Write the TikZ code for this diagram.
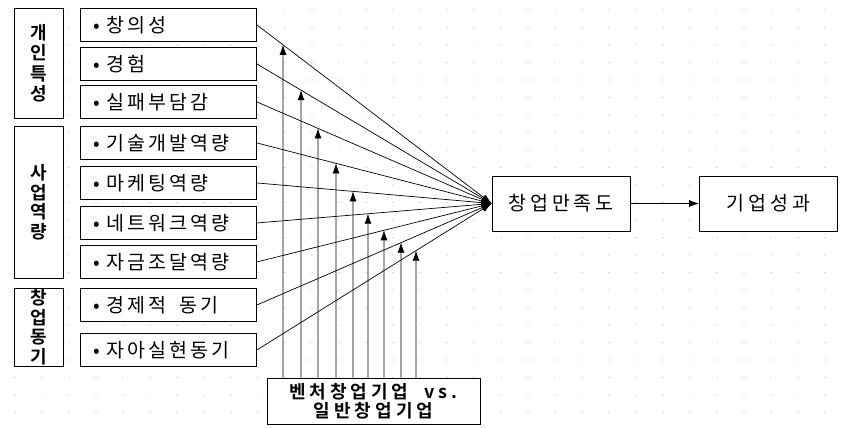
\documentclass[tikz,border=0pt]{standalone}
\usepackage{fontspec}
\setmainfont{Noto Sans CJK KR}
\newfontfamily\krs[LetterSpace=16]{Noto Sans CJK KR}
\newfontfamily\krm[LetterSpace=20]{Noto Sans CJK KR}
\newfontfamily\krb{Noto Sans CJK KR Bold}
\newfontfamily\krbw[LetterSpace=22]{Noto Sans CJK KR Bold}
\usetikzlibrary{arrows.meta}
\begin{document}
\begin{tikzpicture}[x=1pt,y=-1pt,
  box/.style={draw,line width=0.9pt,fill=white},
  item/.style={box,anchor=north west,minimum width=176pt,minimum height=33pt,text width=150pt,inner xsep=13pt,inner ysep=0pt,align=left,font=\krs\fontsize{19.5}{22}\selectfont},
  cat/.style={box,anchor=north west,minimum width=49pt,inner sep=0pt,align=center,font=\krb\fontsize{18}{19.5}\selectfont},
  big/.style={box,minimum width=138pt,minimum height=55pt,inner sep=0pt,font=\krm\fontsize{19.5}{21}\selectfont},
  arr/.style={-{Latex[length=10pt,width=7pt]},line width=0.7pt},
  dotc/.style={fill=black!30}]
\useasboundingbox (0,0) rectangle (856,428);
% background dot grid
\foreach \x in {15,42,...,850}{\foreach \y in {10,27.5,...,428}{\fill[dotc] (\x,\y) circle (0.55pt);}}
% category boxes
\node[cat,minimum height=110pt] (c1) at (14,8) {개\\[1pt]인\\[1pt]특\\[1pt]성};
\node[cat,minimum height=152pt] (c2) at (14,126) {사\\업\\역\\량};
\node[cat,minimum height=78pt] (c3) at (14,288) {창\\업\\동\\기};
% item boxes
\node[item] (i1) at (80,8) {• 창의성};
\node[item] (i2) at (80,47) {• 경험};
\node[item] (i3) at (80,85) {• 실패부담감};
\node[item] (i4) at (80,126) {• 기술개발역량};
\node[item] (i5) at (80,166) {• 마케팅역량};
\node[item] (i6) at (80,206) {• 네트워크역량};
\node[item] (i7) at (80,245) {• 자금조달역량};
\node[item] (i8) at (80,288) {• 경제적\ \ 동기};
\node[item] (i9) at (80,333) {• 자아실현동기};
% outcome boxes
\node[big] (sat) at (561,203.5) {창업만족도};
\node[big] (perf) at (768.5,203.5) {기업성과};
% moderator box
\node[box,minimum width=213pt,minimum height=46pt,inner sep=0pt,align=center,font=\krbw\fontsize{18}{18.5}\selectfont] (mod) at (373.5,401) {벤처창업기업\ \ vs.\\일반창업기업};
\coordinate (cv) at (sat.west);
% fan arrows
\foreach \i in {1,...,9}{\draw[arr] (i\i.east) -- (cv);}
\draw[arr] (sat.east) -- (perf.west);
% moderating arrows
\foreach \i/\x in {1/283,2/301,3/318,4/336,5/353,6/368,7/384,8/401,9/416}{
  \draw[arr] (mod.north -| \x,0) -- (intersection of i\i.east--cv and \x,0--\x,400);
}
\end{tikzpicture}
\end{document}
